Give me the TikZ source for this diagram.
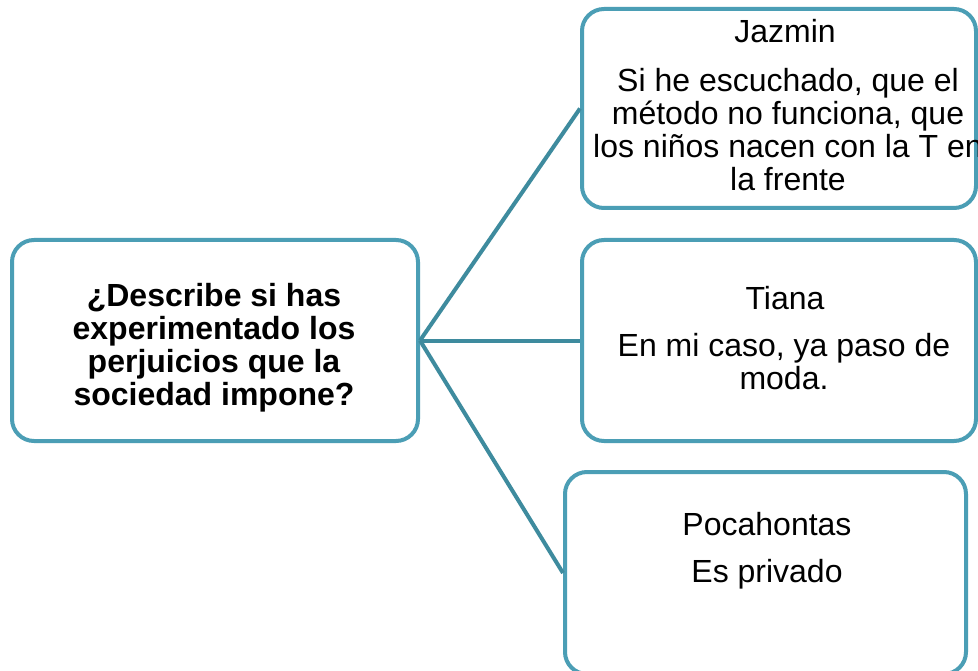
\documentclass[tikz,border=0pt]{standalone}
\usepackage{fontspec}
\setmainfont{Liberation Sans}
\definecolor{boxc}{RGB}{75,158,181}
\definecolor{linec}{RGB}{62,139,158}
\tikzset{
  box/.style={draw=boxc, line width=4pt, rounded corners=22pt, fill=white, rectangle, inner sep=0pt},
  conn/.style={draw=linec, line width=4pt},
  txt/.style={inner sep=0pt, align=center, anchor=base, font=\fontsize{32}{33}\selectfont},
  qtxt/.style={inner sep=0pt, align=center, anchor=base, font=\fontsize{32}{32.7}\selectfont\bfseries}
}
\begin{document}
\begin{tikzpicture}[x=1pt,y=-1pt]
\useasboundingbox (0,0) rectangle (978,671);
\fill[white] (0,0) rectangle (978,671);
\node[box, minimum width=406pt, minimum height=201pt] (q) at (215,340.5) {};
\node[box, minimum width=394pt, minimum height=199pt] (j) at (779,108.5) {};
\node[box, minimum width=394pt, minimum height=201pt] (t) at (779,340.5) {};
\node[box, minimum width=401pt, minimum height=202pt] (p) at (765.5,573) {};
\draw[conn] (q.east) -- (j.west);
\draw[conn] (q.east) -- (t.west);
\draw[conn] (q.east) -- (p.west);
\node[qtxt] (qt) at (214,405) {¿Describe si has\\experimentado los\\perjuicios que la\\sociedad impone?};
\node[txt] (jn) at (785,43) {Jazmin};
\node[txt] (jt) at (788,191) {Si he escuchado, que el\\método no funciona, que\\los niños nacen con la T en\\la frente};
\node[txt] (tn) at (785,310) {Tiana};
\node[txt] (tt) at (784,389) {En mi caso, ya paso de\\moda.};
\node[txt] (pn) at (767,535) {Pocahontas};
\node[txt] (pt) at (767,582) {Es privado};
\end{tikzpicture}
\end{document}
